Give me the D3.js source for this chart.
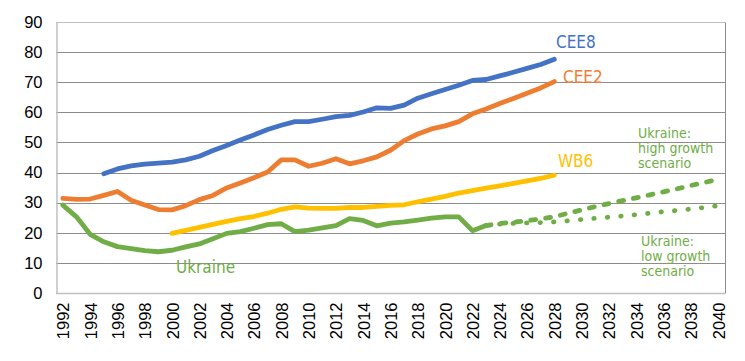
<!DOCTYPE html>
<html>
<head>
<meta charset="utf-8">
<script src="https://cdn.jsdelivr.net/npm/d3@7/dist/d3.min.js"></script>
<style>
  html, body { margin: 0; padding: 0; background: #ffffff; }
  svg { display: block; }
</style>
</head>
<body>
<svg id="chart" width="745" height="361"></svg>
<script>
// ---------- data ----------
const years = d3.range(1992, 2041);
const yTicks = [0, 10, 20, 30, 40, 50, 60, 70, 80, 90];
const xTickYears = d3.range(1992, 2041, 2);

const cee8Years = d3.range(1995, 2029);
const cee8 = [39.6, 41.2, 42.2, 42.8, 43.1, 43.5, 44.2, 45.4, 47.3, 49.0,
              50.8, 52.5, 54.3, 55.7, 56.9, 56.9, 57.7, 58.6, 59.0, 60.1,
              61.5, 61.3, 62.4, 64.7, 66.2, 67.6, 69.0, 70.6, 70.9, 72.1,
              73.3, 74.6, 75.9, 77.6];

const cee2Years = d3.range(1992, 2029);
const cee2 = [31.4, 31.1, 31.2, 32.4, 33.7, 30.8, 29.2, 27.7, 27.6, 29.0,
              31.0, 32.4, 34.9, 36.5, 38.3, 40.2, 44.2, 44.2, 42.1, 43.1,
              44.6, 42.9, 43.9, 45.2, 47.4, 50.6, 52.8, 54.5, 55.5, 56.9,
              59.5, 61.1, 62.9, 64.6, 66.3, 68.1, 70.2];

const wb6Years = d3.range(2000, 2029);
const wb6 = [19.8, 20.8, 21.8, 22.8, 23.8, 24.7, 25.4, 26.5, 27.8, 28.6,
             28.2, 28.1, 28.1, 28.4, 28.4, 28.8, 29.1, 29.3, 30.3, 31.2,
             32.1, 33.2, 34.0, 34.8, 35.6, 36.4, 37.2, 38.1, 39.1];

const ukraineYears = d3.range(1992, 2024);
const ukraine = [29.2, 25.3, 19.5, 17.0, 15.4, 14.7, 14.1, 13.7, 14.2, 15.3,
                 16.3, 18.0, 19.8, 20.4, 21.5, 22.7, 23.0, 20.4, 20.9, 21.6,
                 22.4, 24.7, 24.1, 22.3, 23.2, 23.6, 24.2, 24.9, 25.3, 25.3,
                 20.7, 22.4];

const scenarioYears = d3.range(2023, 2041);
const ukraineHigh = [22.4, 23.1, 23.5, 24.0, 24.6, 25.3, 26.5, 27.6, 28.7, 29.7,
                     30.7, 31.6, 32.6, 33.6, 34.6, 35.7, 36.7, 37.8];
const ukraineLow = [22.4, 22.9, 23.1, 23.3, 23.4, 23.6, 24.0, 24.4, 24.8, 25.2,
                    25.6, 26.0, 26.5, 27.0, 27.4, 27.9, 28.4, 29.0];

const colors = { cee8: "#4472C4", cee2: "#ED7D31", wb6: "#FFC000", ukr: "#70AD47" };

// ---------- layout ----------
const svg = d3.select("#chart");
const mLeft = 56, mRight = 725, mTop = 22, mBottom = 293;

const x = d3.scalePoint().domain(years).range([mLeft, mRight]).padding(0.5);
const y = d3.scaleLinear().domain([0, 90]).range([mBottom, mTop]);

// gridlines
svg.append("g").selectAll("line")
  .data(yTicks.filter(d => d > 0))
  .join("line")
  .attr("x1", mLeft).attr("x2", mRight)
  .attr("y1", d => Math.round(y(d)) + 0.5).attr("y2", d => Math.round(y(d)) + 0.5)
  .attr("stroke", d => d === 90 ? "#bfbfbf" : "#8c8c8c")
  .attr("stroke-width", 1);

// right border
svg.append("line")
  .attr("x1", mRight + 0.5).attr("x2", mRight + 0.5)
  .attr("y1", Math.round(y(90)) + 0.5).attr("y2", Math.round(y(0)) + 0.5)
  .attr("stroke", "#8c8c8c");

// y axis
const yAxis = svg.append("g")
  .attr("transform", `translate(${mLeft + 0.5},0)`)
  .call(d3.axisLeft(y).tickValues(yTicks).tickSize(0).tickPadding(14));
yAxis.select(".domain").attr("stroke", "#bfbfbf").attr("stroke-width", 1.5);
yAxis.selectAll("text")
  .attr("font-family", "Liberation Sans, Arial, sans-serif")
  .attr("font-size", "16.5px").attr("fill", "#000");

// x axis
const xAxis = svg.append("g")
  .attr("transform", `translate(0,${Math.round(y(0)) + 0.5})`)
  .call(d3.axisBottom(x).tickValues(xTickYears).tickSize(0).tickPadding(0));
xAxis.select(".domain").attr("stroke", "#bfbfbf").attr("stroke-width", 1.5)
  .attr("d", `M${mLeft},0H${mRight}`);
xAxis.selectAll("text")
  .attr("font-family", "Liberation Sans, Arial, sans-serif")
  .attr("font-size", "16.5px").attr("fill", "#000")
  .attr("text-anchor", "end")
  .attr("transform", "rotate(-90)")
  .attr("x", -9).attr("y", 0).attr("dy", "0.36em");

// lines
function drawLine(yrs, vals, color, dash) {
  const data = yrs.map((yr, i) => ({ yr, v: vals[i] }));
  const line = d3.line().x(d => x(d.yr)).y(d => y(d.v));
  const p = svg.append("path")
    .datum(data)
    .attr("d", line)
    .attr("fill", "none")
    .attr("stroke", color)
    .attr("stroke-width", 4.8)
    .attr("stroke-linejoin", "round")
    .attr("stroke-linecap", "round");
  if (dash) p.attr("stroke-dasharray", dash);
  return p;
}

drawLine(ukraineYears, ukraine, colors.ukr);
drawLine(scenarioYears, ukraineLow, colors.ukr, "0.5,13");
drawLine(scenarioYears, ukraineHigh, colors.ukr, "5,10");
drawLine(wb6Years, wb6, colors.wb6);
drawLine(cee2Years, cee2, colors.cee2);
drawLine(cee8Years, cee8, colors.cee8);

// labels
const labelFont = "DejaVu Sans Condensed, DejaVu Sans, sans-serif";
function label(txt, xp, yp, color, size) {
  svg.append("text").attr("x", xp).attr("y", yp).text(txt)
    .attr("font-family", labelFont).attr("font-size", size + "px")
    .attr("font-stretch", "condensed")
    .attr("fill", color);
}
label("CEE8", 556, 48, colors.cee8, 17);
label("CEE2", 563, 83, colors.cee2, 17);
label("WB6", 558, 167, colors.wb6, 17);
label("Ukraine", 176, 273, colors.ukr, 17);

function multiLabel(lines, xp, yp, color) {
  lines.forEach((l, i) => svg.append("text")
    .attr("x", xp).attr("y", yp + i * 15)
    .attr("font-family", labelFont).attr("font-size", "14px")
    .attr("font-stretch", "condensed").attr("fill", color)
    .text(l));
}
multiLabel(["Ukraine:", "high growth", "scenario"], 638, 138, colors.ukr);
multiLabel(["Ukraine:", "low growth", "scenario"], 641, 246, colors.ukr);
</script>
</body>
</html>
